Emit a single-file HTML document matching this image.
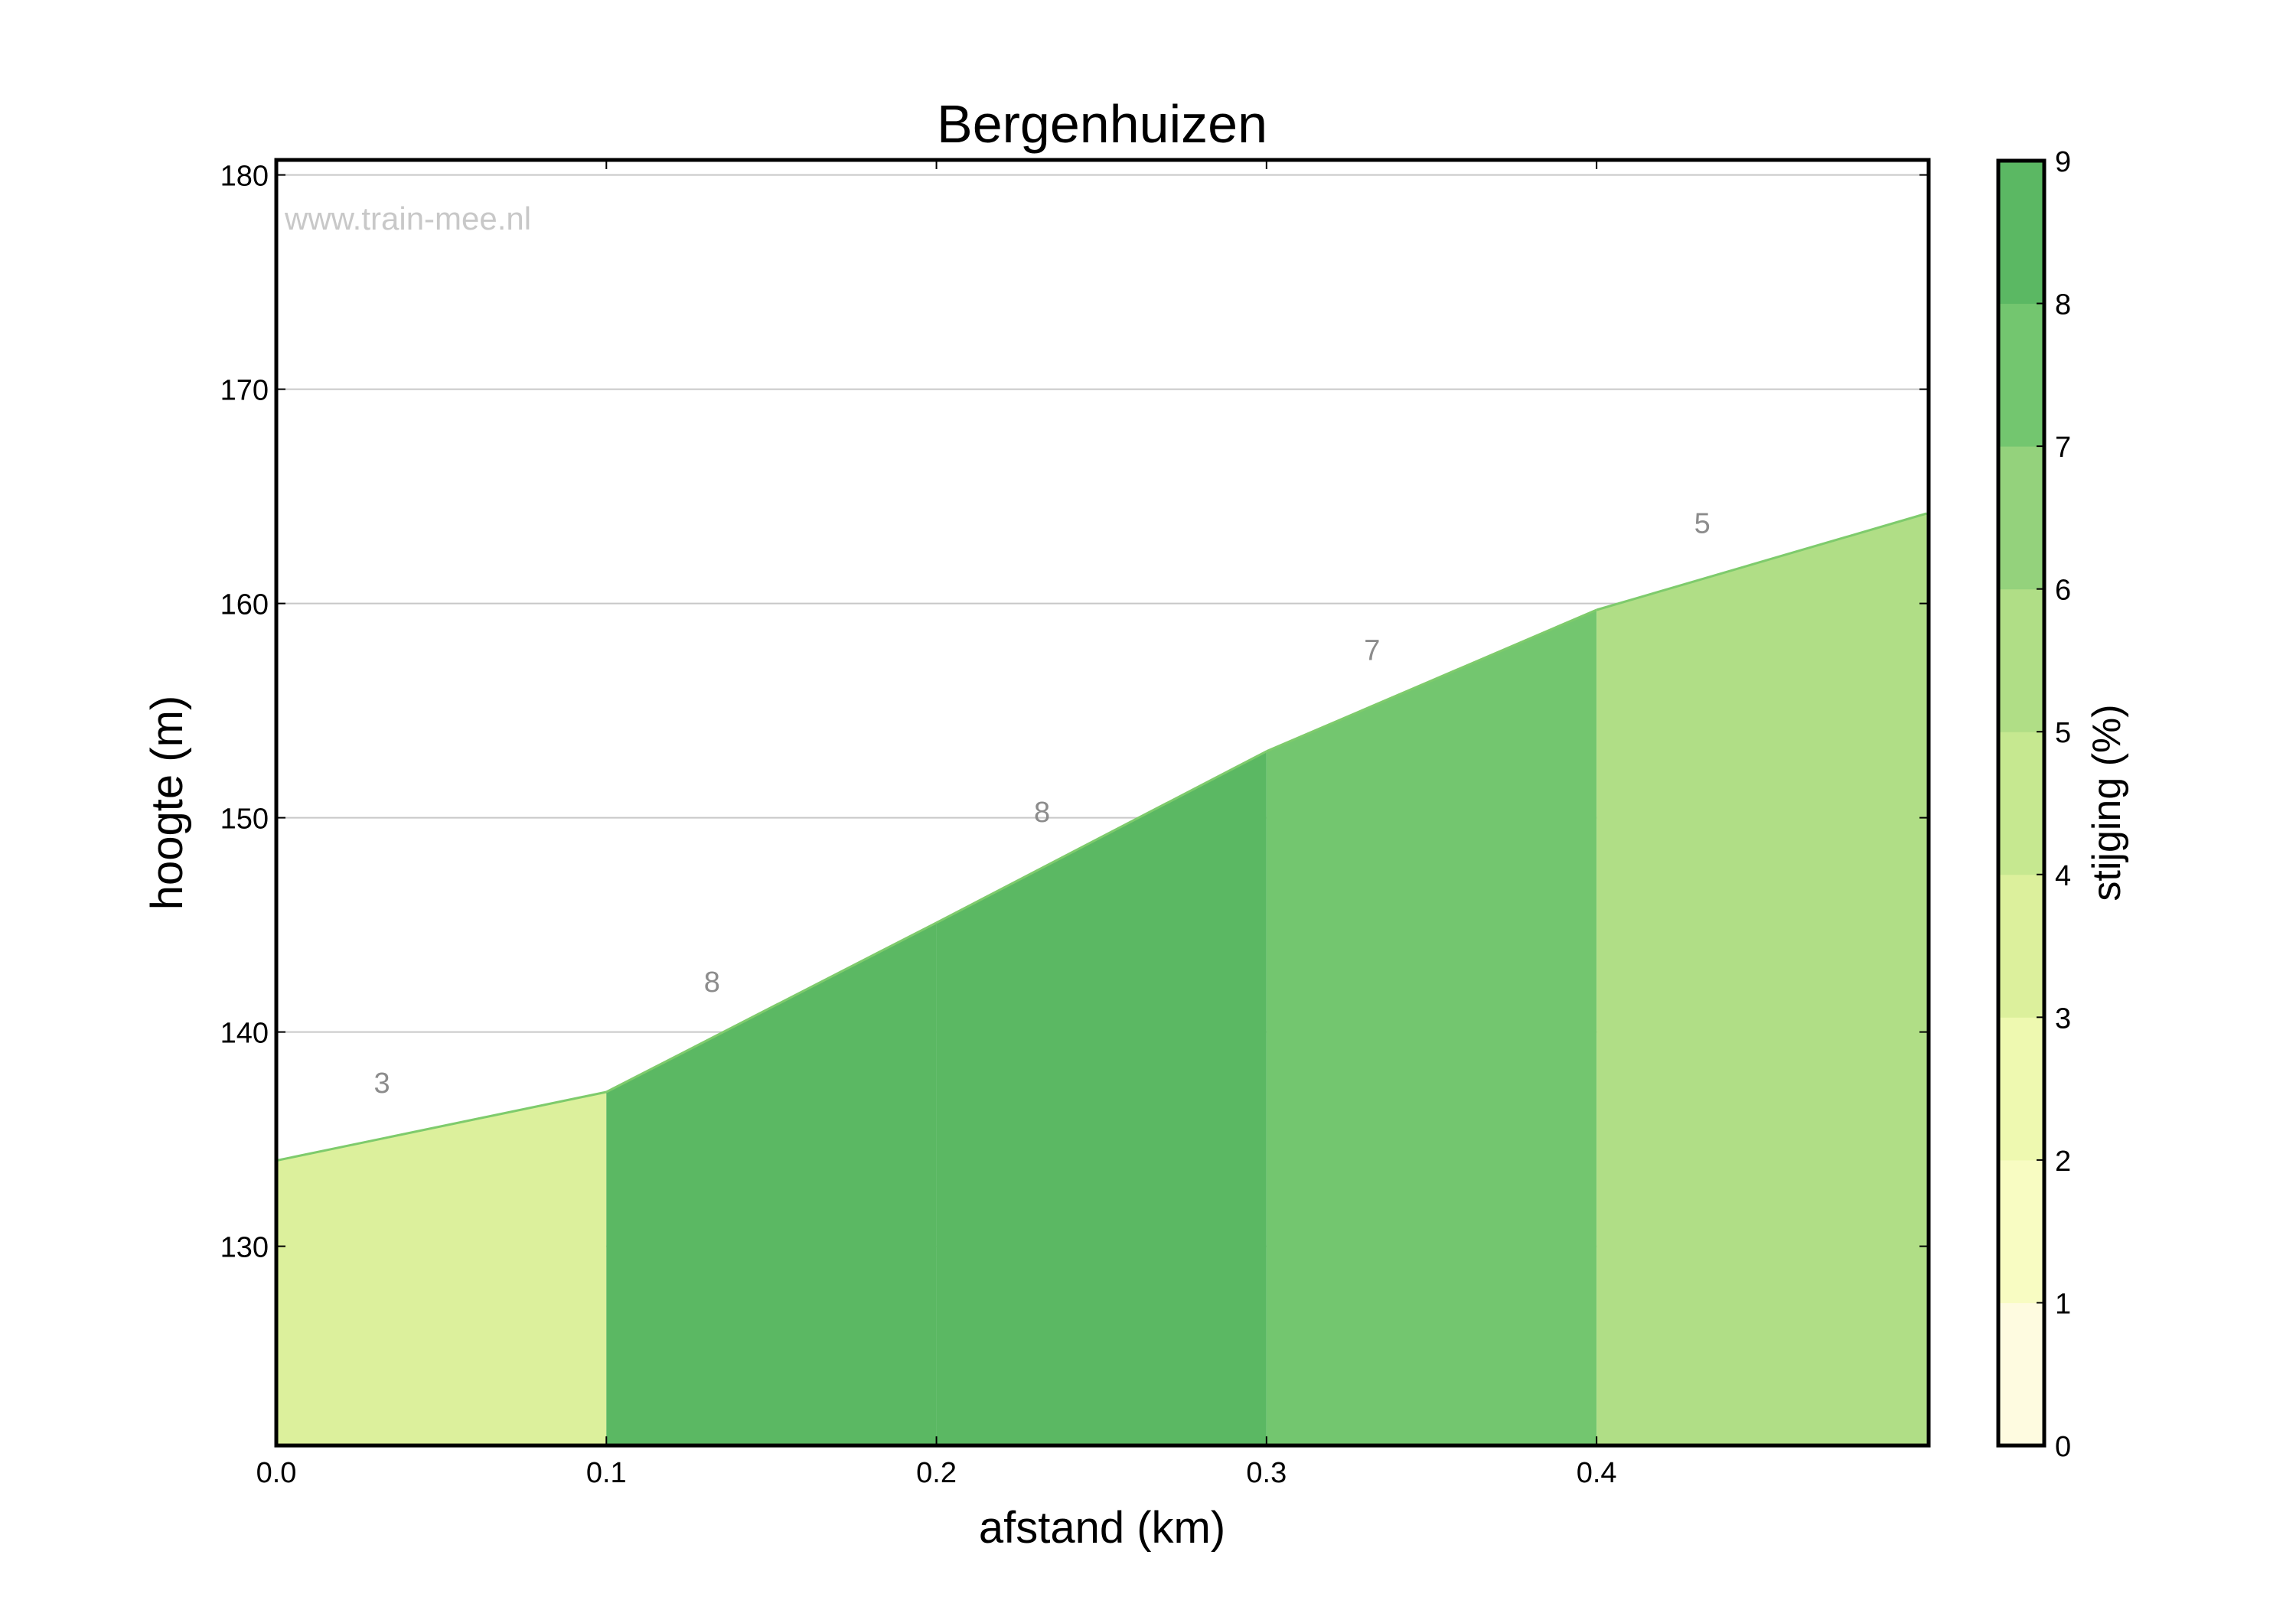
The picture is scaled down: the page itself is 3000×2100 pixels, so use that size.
<!DOCTYPE html>
<html><head><meta charset="utf-8"><style>
html,body{margin:0;padding:0;background:#fff;}
svg{display:block;font-family:"Liberation Sans",sans-serif;}
</style></head><body>
<svg id="chart" width="3000" height="2100" viewBox="0 0 3000 2100" xmlns="http://www.w3.org/2000/svg">
<rect width="3000" height="2100" fill="#fff"/>
<g id="grid"></g>
<g id="areas"></g>
<g id="labels"></g>
<text x="372" y="300" font-size="42" fill="#c8c8c8">www.train-mee.nl</text>
<g id="axes"></g>
<text x="1440" y="186" font-size="70" text-anchor="middle" fill="#000">Bergenhuizen</text>
<text x="1440" y="2016" font-size="58" text-anchor="middle" fill="#000">afstand (km)</text>
<text transform="translate(238,1049) rotate(-90)" font-size="58" text-anchor="middle" fill="#000">hoogte (m)</text>
<g id="colorbar"></g>
<text transform="translate(2770,1049) rotate(-90)" font-size="52" text-anchor="middle" fill="#000">stijging (%)</text>
</svg>
<script>
const distances = [0, 0.1, 0.2, 0.3, 0.4, 0.5];
const elevations = [134.0, 137.2, 145.1, 153.1, 159.7, 164.2];
const gradients = [3, 8, 8, 7, 5];
const xTicks = [0, 0.1, 0.2, 0.3, 0.4];
const xTickLabels = ["0.0", "0.1", "0.2", "0.3", "0.4"];
const yTicks = [130, 140, 150, 160, 170, 180];
const cbTicks = [0,1,2,3,4,5,6,7,8,9];
const cbColors = ["#fefbe0","#f8fcc2","#eef9b0","#dcf09c","#c6e890","#b0de86","#94d27c","#73c66f","#5bb863"];

const L=361,R=2520,T=209,B=1889;
const xMin=0,xMax=0.5006,yMin=120.7,yMax=180.7;
const NS="http://www.w3.org/2000/svg";
function xs(v){return L+(v-xMin)/(xMax-xMin)*(R-L);}
function ys(v){return B-(v-yMin)/(yMax-yMin)*(B-T);}
function mk(tag,attrs,parent){const e=document.createElementNS(NS,tag);for(const k in attrs)e.setAttribute(k,attrs[k]);parent.appendChild(e);return e;}
function colorFor(g){return cbColors[Math.max(0,Math.min(8,Math.floor(g)))];}

const grid=document.getElementById('grid');
yTicks.forEach(v=>{
  const l=mk('line',{x1:L,x2:R,y1:ys(v),y2:ys(v),stroke:'#c8c8c8','stroke-width':2},grid);
  
  
});

const areas=document.getElementById('areas');
const labels=document.getElementById('labels');
for(let i=0;i<gradients.length;i++){
  const x0=xs(distances[i]),x1=xs(distances[i+1]);
  const p=mk('polygon',{points:`${x0},${B} ${x0},${ys(elevations[i])} ${x1},${ys(elevations[i+1])} ${x1},${B}`,fill:colorFor(gradients[i])},areas);
  
  
  const ln=mk('line',{x1:x0,y1:ys(elevations[i]),x2:x1,y2:ys(elevations[i+1]),stroke:'#7ecb6c','stroke-width':3},areas);
  
  
  const lx=distances[i]+0.032;
  const ly=elevations[i]+(elevations[i+1]-elevations[i])*0.32+2.5;
  const t=mk('text',{x:xs(lx),y:ys(ly),'font-size':38,fill:'#8c8c8c','text-anchor':'middle','dominant-baseline':'middle'},labels);
  t.textContent=gradients[i];
  
  
}

const axes=document.getElementById('axes');
const frame=mk('rect',{x:L,y:T,width:R-L,height:B-T,fill:'none',stroke:'#000','stroke-width':5},axes);


xTicks.forEach((v,i)=>{
  mk('line',{x1:xs(v),x2:xs(v),y1:B,y2:B-12,stroke:'#000','stroke-width':2},axes);
  mk('line',{x1:xs(v),x2:xs(v),y1:T,y2:T+12,stroke:'#000','stroke-width':2},axes);
  const t=mk('text',{x:xs(v),y:B+48,'font-size':38,'text-anchor':'middle',fill:'#000'},axes);
  t.textContent=xTickLabels[i];
  
  
});
yTicks.forEach(v=>{
  mk('line',{x1:L,x2:L+12,y1:ys(v),y2:ys(v),stroke:'#000','stroke-width':2},axes);
  mk('line',{x1:R,x2:R-12,y1:ys(v),y2:ys(v),stroke:'#000','stroke-width':2},axes);
  const t=mk('text',{x:L-10,y:ys(v)+14,'font-size':38,'text-anchor':'end',fill:'#000'},axes);
  t.textContent=v;
  
  
});

const cb=document.getElementById('colorbar');
const CL=2611,CR=2671,CT=210,CB=1889;
function cy(v){return CB-(v-cbTicks[0])/(cbTicks[cbTicks.length-1]-cbTicks[0])*(CB-CT);}
cbColors.forEach((c,i)=>{
  const r=mk('rect',{x:CL,y:cy(i+1),width:CR-CL,height:cy(i)-cy(i+1)+0.5,fill:c},cb);
  
  
});
const cf=mk('rect',{x:CL,y:CT,width:CR-CL,height:CB-CT,fill:'none',stroke:'#000','stroke-width':5},cb);


cbTicks.forEach(v=>{
  mk('line',{x1:CR,x2:CR-10,y1:cy(v),y2:cy(v),stroke:'#000','stroke-width':2},cb);
  const t=mk('text',{x:CR+14,y:cy(v)+14,'font-size':38,fill:'#000'},cb);
  t.textContent=v;
  
  
});
</script>
</body></html>
